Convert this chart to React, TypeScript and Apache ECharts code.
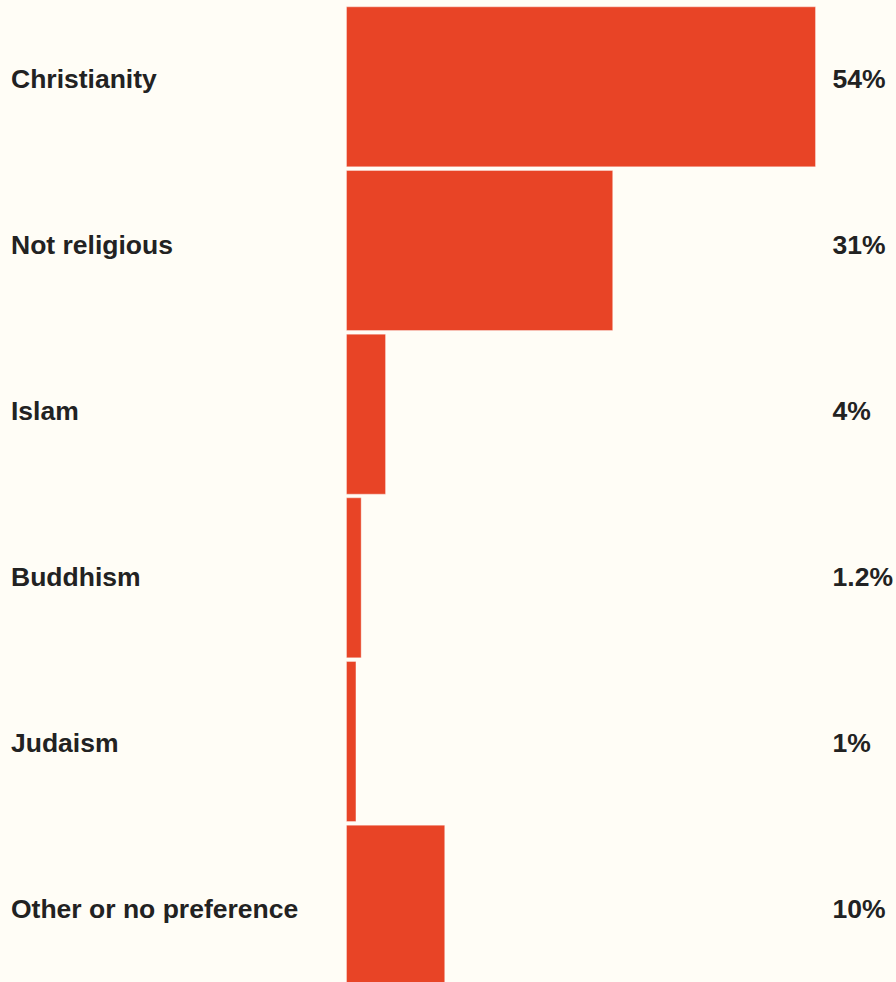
import React, { useEffect, useRef } from "react";
import * as echarts from "echarts";

const categories = ["Christianity", "Not religious", "Islam", "Buddhism", "Judaism", "Other or no preference"];
const barValues = [54, 30.7, 4.6, 1.8, 1.2, 11.4];
const valueLabels = ["54%", "31%", "4%", "1.2%", "1%", "10%"];

const OFFSET = 10;

export default function App() {
  const ref = useRef<HTMLDivElement>(null);
  useEffect(() => {
    if (!ref.current) return;
    const chart = echarts.init(ref.current, null, { renderer: "svg" });
    const font = {
      fontFamily: "'Liberation Sans', Arial, Helvetica, sans-serif",
      fontWeight: "bold" as const,
      fontSize: 26.5,
      color: "#222222",
    };
    chart.setOption({
      animation: false,
      backgroundColor: "#fffdf6",
      grid: [
        { left: 346, right: 80, top: 5 + OFFSET, height: 982 },
        { left: 346, right: 80, top: -4 + OFFSET, height: 996 },
      ],
      xAxis: [
        { type: "value", min: 0, max: 54, show: false, gridIndex: 0 },
        { type: "value", min: 0, max: 54, show: false, gridIndex: 1 },
      ],
      yAxis: [
        { type: "category", data: categories, inverse: true, show: false, gridIndex: 0 },
        {
          type: "category",
          data: categories,
          inverse: true,
          gridIndex: 1,
          axisLine: { show: false },
          axisTick: { show: false },
          axisLabel: { ...font, align: "left", margin: 335 },
        },
        {
          type: "category",
          data: valueLabels,
          inverse: true,
          gridIndex: 1,
          position: "right",
          axisLine: { show: false },
          axisTick: { show: false },
          axisLabel: { ...font, align: "left", margin: 17 },
        },
      ],
      series: [
        {
          type: "bar",
          xAxisIndex: 0,
          yAxisIndex: 0,
          data: barValues,
          barWidth: 161,
          itemStyle: { color: "#e84426", borderColor: "rgba(255,255,255,0.35)", borderWidth: 1 },
        },
      ],
    });
    return () => chart.dispose();
  }, []);
  return (
    <div style={{ position: "absolute", left: 0, top: 0, width: 896, height: 982, overflow: "hidden", background: "#fffdf6" }}>
      <div ref={ref} style={{ position: "absolute", left: 0, top: -OFFSET, width: 896, height: 1010 }} />
    </div>
  );
}
